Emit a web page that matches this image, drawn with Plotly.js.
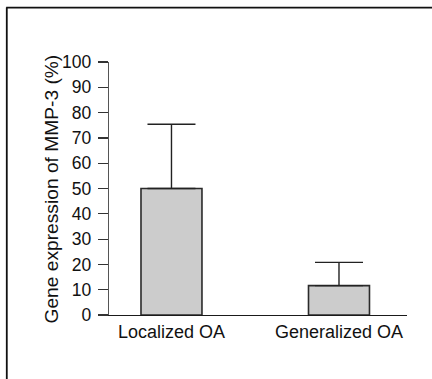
<!DOCTYPE html>
<html>
<head>
<meta charset="utf-8">
<script src="https://cdn.plot.ly/plotly-3.0.1.min.js"></script>
<style>
html,body{margin:0;padding:0;background:#fff;}
#chart{width:432px;height:379px;}
</style>
</head>
<body>
<div id="chart"></div>
<script>
var categories = ["Localized OA", "Generalized OA"];
var values = [50, 11.6];
var errorsPlus = [25.4, 9.2];
var yTickVals = [0, 10, 20, 30, 40, 50, 60, 70, 80, 90, 100];
var yTitle = "Gene expression of MMP-3 (%)";

var trace = {
  type: "bar",
  x: [0, 1],
  y: values,
  width: 0.364,
  marker: {color: "#cccccc", line: {color: "#2a2a2a", width: 1.6}},
  error_y: {type: "data", symmetric: false, array: errorsPlus, arrayminus: [0, 0],
            color: "#222", thickness: 1.4, width: 24},
  hoverinfo: "none"
};

var layout = {
  width: 432, height: 379,
  margin: {l: 109, r: 25, t: 62, b: 64},
  paper_bgcolor: "#fff", plot_bgcolor: "#fff",
  showlegend: false,
  font: {family: "Liberation Sans, Arial, sans-serif", color: "#111"},
  xaxis: {
    range: [-0.373, 1.406],
    tickvals: [0, 1], ticktext: categories,
    ticks: "", showgrid: false, zeroline: false,
    showline: true, linecolor: "#1a1a1a", linewidth: 1.3,
    tickfont: {size: 18}, ticklabelstandoff: 0
  },
  yaxis: {
    range: [0, 100],
    tickvals: yTickVals,
    ticks: "outside", ticklen: 10, tickwidth: 1.2, tickcolor: "#333",
    showline: true, linecolor: "#555", linewidth: 1.3,
    showgrid: false, zeroline: false,
    tickfont: {size: 17.5}, ticklabelstandoff: 3
  },
  annotations: [
    {text: yTitle, xref: "paper", yref: "paper", x: -0.193, y: 0.498,
     xanchor: "center", yanchor: "middle", textangle: -90, showarrow: false,
     font: {size: 19.2, color: "#111"}}
  ],
  shapes: [
    {type: "line", xref: "paper", yref: "paper", x0: -0.345, x1: 1.2, y0: 1.215, y1: 1.215,
     line: {color: "#111", width: 1.8}},
    {type: "line", xref: "paper", yref: "paper", x0: -0.343, x1: -0.343, y0: 1.215, y1: -0.3,
     line: {color: "#111", width: 1.8}}
  ]
};

Plotly.newPlot("chart", [trace], layout, {staticPlot: true, displayModeBar: false});
</script>
</body>
</html>
